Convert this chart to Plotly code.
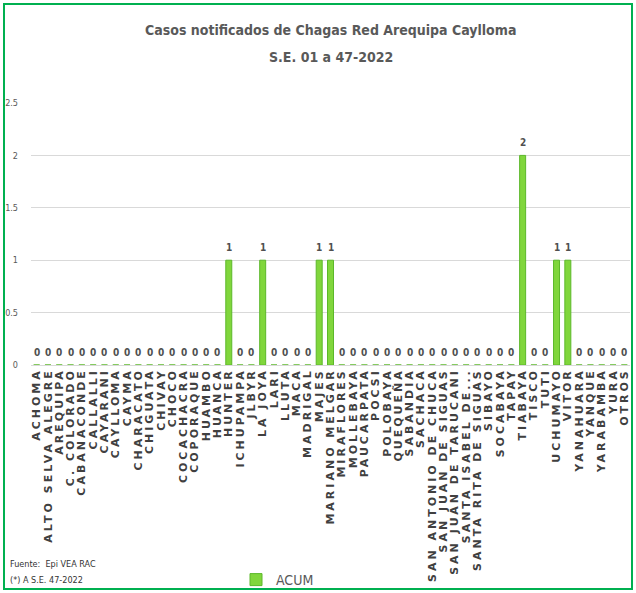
import plotly.graph_objects as go

# Districts of Red Arequipa Caylloma and accumulated Chagas cases
distritos = [
    "ACHOMA", "ALTO SELVA ALEGRE", "AREQUIPA", "C. COLORADO", "CABANACONDE",
    "CALLALLI", "CAYARANI", "CAYLLOMA", "CAYMA", "CHARACATO", "CHIGUATA",
    "CHIVAY", "CHOCO", "COCACHACRA", "COPORAQUE", "HUAMBO", "HUANCA",
    "HUNTER", "ICHUPAMPA", "JLBYR", "LA JOYA", "LARI", "LLUTA", "MACA",
    "MADRIGAL", "MAJES", "MARIANO MELGAR", "MIRAFLORES", "MOLLEBAYA",
    "PAUCARPATA", "POCSI", "POLOBAYA", "QUEQUEÑA", "SABANDIA", "SACHACA",
    "SAN ANTONIO DE CHUCA", "SAN JUAN DE SIGUAS", "SAN JUAN DE TARUCANI",
    "SANTA ISABEL DE...", "SANTA RITA DE SIGUAS", "SIBAYO", "SOCABAYA",
    "TAPAY", "TIABAYA", "TISCO", "TUTI", "UCHUMAYO", "VITOR", "YANAHUARA",
    "YANQUE", "YARABAMBA", "YURA", "OTROS",
]
casos_acum = [
    0, 0, 0, 0, 0,
    0, 0, 0, 0, 0, 0,
    0, 0, 0, 0, 0, 0,
    1, 0, 0, 1, 0, 0, 0,
    0, 1, 1, 0, 0,
    0, 0, 0, 0, 0, 0,
    0, 0, 0,
    0, 0, 0, 0,
    0, 2, 0, 0, 1, 1, 0,
    0, 0, 0, 0,
]
y_ticks = [0, 0.5, 1, 1.5, 2, 2.5]
y_tick_text = ["0", "0.5", "1", "1.5", "2", "2.5"]

W, H = 636, 593
ML, MR, MT, MB = 31, 6, 103, 228
PW, PH = W - ML - MR, H - MT - MB


def px_x(p):
    return (p - ML) / PW


def px_y(p):
    return (H - MB - p) / PH


NARROW = "DejaVu Sans Condensed, Liberation Sans Narrow, sans-serif"
GREY = "#595959"

fig = go.Figure()
fig.add_trace(go.Bar(
    x=distritos, y=casos_acum, name="ACUM",
    marker=dict(color="#80D63C", line=dict(color="#5CB82A", width=1)),
    showlegend=True,
))

annotations = []
for d, v in zip(distritos, casos_acum):
    annotations.append(dict(
        x=d, y=v, xref="x", yref="y", text=f"<b>{v}</b>", showarrow=False,
        yanchor="bottom", yshift=5,
        font=dict(family=NARROW, size=10, color="#505050"),
    ))

annotations += [
    dict(xref="paper", yref="paper", x=0.5, y=px_y(30), xanchor="center",
         yanchor="middle", showarrow=False,
         text="<b>Casos notificados de Chagas Red Arequipa Caylloma</b>",
         font=dict(family=NARROW, size=14, color=GREY)),
    dict(xref="paper", yref="paper", x=0.5, y=px_y(57), xanchor="center",
         yanchor="middle", showarrow=False, text="<b>S.E. 01 a 47-2022</b>",
         font=dict(family=NARROW, size=14, color=GREY)),
    dict(xref="paper", yref="paper", x=px_x(8), y=px_y(564), xanchor="left",
         yanchor="middle", showarrow=False, text="Fuente:  Epi VEA RAC",
         font=dict(family=NARROW, size=9, color="#333333")),
    dict(xref="paper", yref="paper", x=px_x(8), y=px_y(580), xanchor="left",
         yanchor="middle", showarrow=False, text="(*) A S.E. 47-2022",
         font=dict(family=NARROW, size=9, color="#333333")),
]

fig.update_layout(
    width=W, height=H,
    margin=dict(l=ML, r=MR, t=MT, b=MB, pad=0, autoexpand=False),
    paper_bgcolor="white", plot_bgcolor="white",
    bargap=0.47,
    annotations=annotations,
    legend=dict(orientation="h", x=px_x(236), y=px_y(580), xanchor="left",
                yanchor="middle", font=dict(family=NARROW, size=14, color=GREY),
                itemwidth=30, bgcolor="rgba(0,0,0,0)"),
    shapes=[dict(type="rect", xref="paper", yref="paper",
                 x0=px_x(4), x1=px_x(632), y0=px_y(589), y1=px_y(4),
                 line=dict(color="#00B050", width=2), layer="above")],
)
fig.update_xaxes(
    tickmode="array", tickvals=distritos, ticktext=distritos,
    tickangle=-90, showgrid=False, showline=False, ticks="",
    automargin=False,
    tickfont=dict(family="DejaVu Sans", size=11, color="#404040", weight="bold"),
)
fig.update_yaxes(
    range=[0, 2.5], tickvals=y_ticks, ticktext=y_tick_text,
    showgrid=True, gridcolor="#D9D9D9", gridwidth=1,
    zeroline=True, zerolinecolor="#D9D9D9", zerolinewidth=1,
    showline=False, ticks="", ticklabelstandoff=12, automargin=False,
    tickfont=dict(family=NARROW, size=9, color=GREY),
)

# widen the spacing of the district names under the bars
letter_spacing_js = """
var gd = document.getElementById('{plot_id}');
gd.querySelectorAll('.xtick text').forEach(function (t) {
    t.style.letterSpacing = '3px';
});
"""

fig.write_html("out.html", post_script=letter_spacing_js)
